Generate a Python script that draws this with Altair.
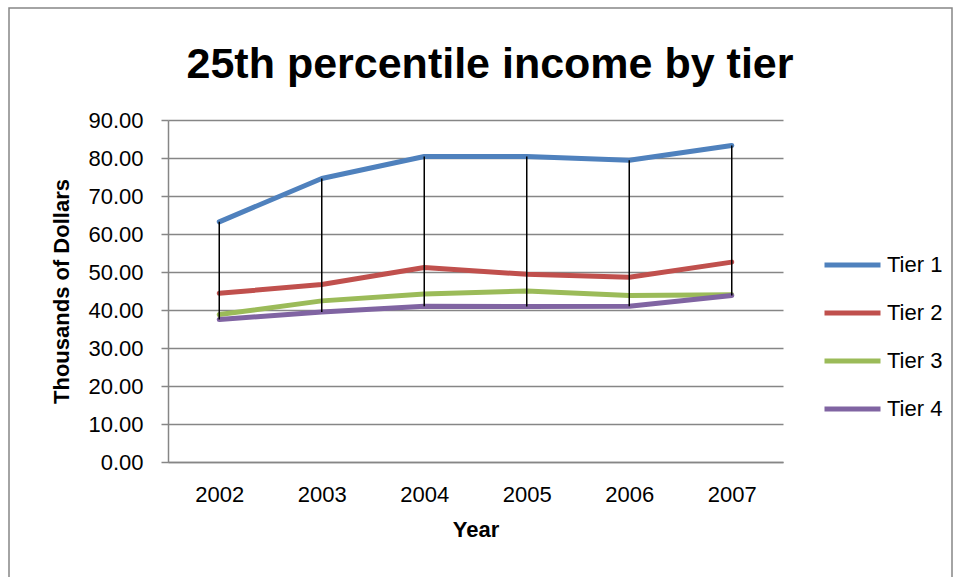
import altair as alt
import pandas as pd

years = ["2002", "2003", "2004", "2005", "2006", "2007"]
tier1 = [63.2, 74.6, 80.4, 80.4, 79.4, 83.3]
tier2 = [44.4, 46.7, 51.2, 49.4, 48.6, 52.6]
tier3 = [38.8, 42.4, 44.2, 45.0, 43.8, 44.0]
tier4 = [37.5, 39.5, 41.0, 40.9, 41.0, 43.8]
series_names = ["Tier 1", "Tier 2", "Tier 3", "Tier 4"]
series_colors = ["#4F81BD", "#C0504D", "#9BBB59", "#8064A2"]
y_ticks = [0, 10, 20, 30, 40, 50, 60, 70, 80, 90]
chart_title = "25th percentile income by tier"

rows = []
for name, vals in zip(series_names, [tier1, tier2, tier3, tier4]):
    for yr, v in zip(years, vals):
        rows.append({"year": yr, "tier": name, "value": v})
df = pd.DataFrame(rows)

FONT = "Liberation Sans"
GRID = "#868686"

x_scale = alt.Scale(type="point", padding=0.5, domain=years)
y_scale = alt.Scale(domain=[0, 90], nice=False)

x_axis = alt.Axis(title="Year", labelAngle=0, ticks=False, domainColor=GRID,
                  domainWidth=1.5,
                  labelFontSize=22, labelPadding=22, titleFontSize=22,
                  titleFontWeight="bold", titlePadding=14, labelFont=FONT,
                  titleFont=FONT, labelColor="black", titleColor="black")
y_axis = alt.Axis(title="Thousands of Dollars", values=y_ticks, format=".2f",
                  labelOverlap=False, tickCount=10,
                  grid=True, gridColor=GRID, gridWidth=1.5, domainColor=GRID,
                  domainWidth=1.5, tickWidth=1.5,
                  tickColor=GRID, tickSize=7, labelFontSize=22, labelPadding=18,
                  titleFontSize=22, titleFontWeight="bold", titlePadding=14,
                  labelFont=FONT, titleFont=FONT, labelColor="black",
                  titleColor="black")

lines = alt.Chart(df).mark_line(strokeWidth=5, strokeCap="round", strokeJoin="round").encode(
    x=alt.X("year:O", scale=x_scale, axis=x_axis),
    y=alt.Y("value:Q", scale=y_scale, axis=y_axis),
    color=alt.Color("tier:N", scale=alt.Scale(domain=series_names, range=series_colors),
                    legend=alt.Legend(title=None, orient="none", legendX=654, legendY=133,
                                      symbolType="stroke", symbolSize=3136,
                                      symbolStrokeWidth=5, labelFontSize=22, labelOffset=4,
                                      labelFont=FONT, labelColor="black",
                                      clipHeight=24, rowPadding=24, padding=0)),
    order=alt.Order("tier:N"),
)

hilo = alt.Chart(df).transform_aggregate(
    lo="min(value)", hi="max(value)", groupby=["year"]
).mark_rule(color="black", strokeWidth=1.5).encode(
    x=alt.X("year:O", scale=x_scale, axis=x_axis),
    y=alt.Y("lo:Q", scale=y_scale, axis=y_axis),
    y2="hi:Q",
)

frame = alt.Chart(pd.DataFrame({"a": [0]})).mark_rect(
    fill=None, stroke=GRID, strokeWidth=1.5
).encode(
    x=alt.value(-159), x2=alt.value(784), y=alt.value(-112), y2=alt.value(480)
)

title_mark = alt.Chart(pd.DataFrame({"t": [chart_title]})).mark_text(
    font=FONT, fontSize=43, fontWeight="bold", color="black",
    align="center", baseline="alphabetic"
).encode(text="t:N", x=alt.value(322), y=alt.value(-42))

chart = alt.layer(frame, lines, hilo, title_mark).properties(
    width=615,
    height=342,
    autosize=alt.AutoSizeParams(type="none"),
    padding={"left": 168, "top": 120, "right": 171, "bottom": 115},
).configure(background="white").configure_view(stroke=None)

chart.save("out.html", embed_options={"renderer": "svg", "actions": False})
